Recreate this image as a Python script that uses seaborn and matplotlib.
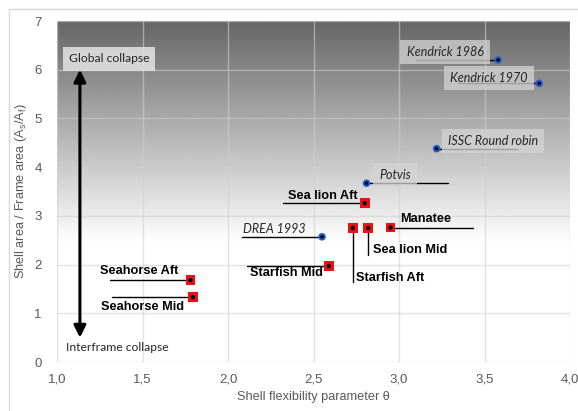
import numpy as np
import pandas as pd
import matplotlib
matplotlib.use("Agg")
import matplotlib.pyplot as plt
from matplotlib.patches import Rectangle
import seaborn as sns

# Reference test cases (italic, blue) and new designs (bold, red)
ref_names = ["Kendrick 1986", "Kendrick 1970", "ISSC Round robin", "Potvis", "DREA 1993"]
ref_theta = [3.58, 3.82, 3.22, 2.81, 2.55]
ref_ratio = [6.20, 5.72, 4.38, 3.67, 2.57]

hull_names = ["Sea lion Aft", "Starfish Aft", "Sea lion Mid", "Manatee",
              "Starfish Mid", "Seahorse Aft", "Seahorse Mid"]
hull_theta = [2.80, 2.73, 2.82, 2.95, 2.59, 1.78, 1.795]
hull_ratio = [3.26, 2.75, 2.75, 2.76, 1.97, 1.68, 1.33]

x_ticks = [1.0, 1.5, 2.0, 2.5, 3.0, 3.5, 4.0]
x_tick_labels = ["1,0", "1,5", "2,0", "2,5", "3,0", "3,5", "4,0"]
y_ticks = [0, 1, 2, 3, 4, 5, 6, 7]

ref_df = pd.DataFrame({"theta": ref_theta, "ratio": ref_ratio, "name": ref_names})
hull_df = pd.DataFrame({"theta": hull_theta, "ratio": hull_ratio, "name": hull_names})

sns.set_theme(style="white")
plt.rcParams["font.family"] = ["Liberation Sans", "DejaVu Sans"]

fig = plt.figure(figsize=(5.78, 4.11), dpi=100)
W, H = 578, 411
ax = fig.add_axes([57 / W, 1 - 362 / H, (570 - 57) / W, (362 - 21) / H])

# outer frame of the chart area
fig.patches.append(Rectangle((9 / W, -0.2), 1.2, 1 - 9 / H + 0.2, transform=fig.transFigure,
                             fill=False, edgecolor="#d9d9d9", lw=1.0, zorder=0))

# shaded background: dark at the top, fading to white near 2.5
grad = np.linspace(0.40, 1.0, 256).reshape(-1, 1)
ax.imshow(grad, extent=[1.0, 4.0, 2.45, 7.0], origin="upper", cmap="gray",
          vmin=0, vmax=1, aspect="auto", zorder=0, interpolation="bilinear")

ax.set_xlim(1.0, 4.0)
ax.set_ylim(0, 7)
ax.set_xticks(x_ticks)
ax.set_xticklabels(x_tick_labels)
ax.set_yticks(y_ticks)
ax.grid(True, color="#cfcfcf", alpha=0.6, lw=1.0, zorder=1)
ax.set_axisbelow(False)
for s in ax.spines.values():
    s.set_visible(False)
ax.tick_params(axis="both", length=0, labelsize=9.5, labelcolor="#595959")
ax.tick_params(axis="x", pad=8)
ax.tick_params(axis="y", pad=11)

ax.set_xlabel("Shell flexibility parameter θ", fontsize=9.2, color="#595959", labelpad=4)
ax.set_ylabel("Shell area / Frame area (A$\\mathregular{_s}$/A$\\mathregular{_f}$)",
              fontsize=9.2, color="#595959", labelpad=4)

# leader lines
line_kw = dict(color="black", lw=1.0, zorder=3)
ax.plot([3.10, 3.58], [6.20, 6.20], **line_kw)
ax.plot([3.345, 3.82], [5.72, 5.72], **line_kw)
ax.plot([3.22, 3.69], [4.38, 4.38], **line_kw)
ax.plot([2.81, 3.287], [3.67, 3.67], **line_kw)
ax.plot([2.08, 2.55], [2.57, 2.57], **line_kw)
ax.plot([2.32, 2.80], [3.26, 3.26], **line_kw)
ax.plot([2.95, 3.43], [2.76, 2.76], **line_kw)
ax.plot([2.82, 2.82], [2.75, 2.20], **line_kw)
ax.plot([2.73, 2.73], [2.75, 1.64], **line_kw)
ax.plot([2.11, 2.59], [1.97, 1.97], **line_kw)
ax.plot([1.31, 1.78], [1.68, 1.68], **line_kw)
ax.plot([1.32, 1.795], [1.33, 1.33], **line_kw)

# markers
sns.scatterplot(data=ref_df, x="theta", y="ratio", ax=ax, marker="o", s=30,
                color="#1f5fd6", edgecolor="none", zorder=4, legend=False)
sns.scatterplot(data=ref_df, x="theta", y="ratio", ax=ax, marker="o", s=7,
                color="black", edgecolor="none", zorder=5, legend=False)
sns.scatterplot(data=hull_df, x="theta", y="ratio", ax=ax, marker="s", s=48,
                color="#ee1111", edgecolor="none", zorder=4, legend=False)
sns.scatterplot(data=hull_df, x="theta", y="ratio", ax=ax, marker="o", s=10,
                color="black", edgecolor="none", zorder=5, legend=False)

# labels for reference cases
box = dict(boxstyle="square,pad=0.5", facecolor="#d4d4d4", edgecolor="none", alpha=0.75)
ital = dict(fontsize=9, style="italic", family=["Lato", "DejaVu Sans"], color="#262626",
            zorder=6)
ax.text(3.269, 6.365, ref_names[0], ha="center", va="center", bbox=box, **ital)
ax.text(3.526, 5.83, ref_names[1], ha="center", va="center", bbox=box, **ital)
ax.text(3.55, 4.54, ref_names[2], ha="center", va="center", bbox=box, **ital)
ax.text(2.977, 3.84, ref_names[3], ha="center", va="center", bbox=box, **ital)
ax.text(2.088, 2.73, ref_names[4], ha="left", va="center", **ital)

# labels for hull sections
bold = dict(fontsize=9.2, weight="bold", color="black", zorder=6)
ax.text(2.76, 3.41, hull_names[0], ha="right", va="center", **bold)
ax.text(2.75, 1.72, hull_names[1], ha="left", va="center", **bold)
ax.text(2.85, 2.30, hull_names[2], ha="left", va="center", **bold)
ax.text(3.006, 2.94, hull_names[3], ha="left", va="center", **bold)
ax.text(2.34, 1.83, hull_names[4], ha="center", va="center", **bold)
ax.text(1.48, 1.87, hull_names[5], ha="center", va="center", **bold)
ax.text(1.50, 1.13, hull_names[6], ha="center", va="center", **bold)

# collapse mode arrow
ax.annotate("", xy=(1.134, 6.0), xytext=(1.134, 0.5),
            arrowprops=dict(arrowstyle="<|-|>", color="black", lw=2.2,
                            mutation_scale=18, shrinkA=0, shrinkB=0), zorder=6)
ax.text(1.304, 6.22, "Global collapse", ha="center", va="center", fontsize=8.7,
        family=["Lato", "DejaVu Sans"], color="#262626", zorder=6,
        bbox=dict(boxstyle="square,pad=0.5", facecolor="#dedede", edgecolor="none", alpha=0.9))
ax.text(1.351, 0.29, "Interframe collapse", ha="center", va="center", fontsize=8.7,
        family=["Lato", "DejaVu Sans"], color="#262626", zorder=6)

fig.savefig("out.png", dpi=100)
